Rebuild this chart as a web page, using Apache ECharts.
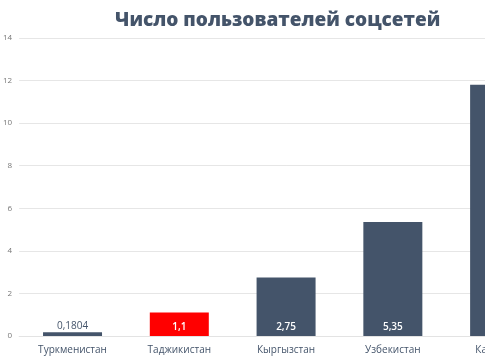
<!DOCTYPE html>
<html>
<head>
<meta charset="utf-8">
<script src="https://cdn.jsdelivr.net/npm/echarts@6/dist/echarts.min.js"></script>
<style>
html,body{margin:0;padding:0;overflow:hidden;background:#fff;width:485px;height:360px;}
#c{width:600px;height:360px;}
</style>
</head>
<body>
<div id="c"></div>
<script>
const titleText = "Число пользователей соцсетей";
const categories = ["Туркменистан", "Таджикистан", "Кыргызстан", "Узбекистан", "Казахстан"];
const values = [0.1804, 1.1, 2.75, 5.35, 11.8];
const barColors = ["#44546A", "#FF0000", "#44546A", "#44546A", "#44546A"];
const labelInside = [false, true, true, true, true];

const chart = echarts.init(document.getElementById('c'));
const fmt = v => String(v).replace('.', ',');
chart.setOption({
  animation: false,
  title: {
    text: titleText,
    left: 110, top: 6,
    textStyle: {color: '#44546A', fontSize: 19, fontWeight: 800, fontFamily: 'Open Sans'}
  },
  grid: {left: 16, right: 47, top: 38, bottom: 24, containLabel: false},
  xAxis: {
    type: 'category', data: categories,
    axisLine: {show: true, lineStyle: {color: '#e3e3e3', width: 1}},
    axisTick: {show: false},
    axisLabel: {color: '#44546A', fontSize: 10, fontFamily: 'Open Sans', margin: 9}
  },
  yAxis: {
    type: 'value', min: 0, max: 14, interval: 2,
    axisLine: {show: false}, axisTick: {show: false},
    splitLine: {lineStyle: {color: '#e6e6e6', width: 1}},
    axisLabel: {color: '#777', fontSize: 8, fontFamily: 'Open Sans', margin: 7}
  },
  series: [{
    type: 'bar', barWidth: 59,
    data: values.map((v, i) => ({
      value: v,
      itemStyle: {color: barColors[i]},
      label: labelInside[i]
        ? {show: true, position: 'insideBottom', distance: 4, color: '#fff', fontSize: 10, fontWeight: 600, fontFamily: 'Open Sans', formatter: p => fmt(p.value)}
        : {show: true, position: 'top', distance: 1, color: '#44546A', fontSize: 10, fontFamily: 'Open Sans', formatter: p => fmt(p.value)}
    }))
  }]
});
</script>
</body>
</html>
